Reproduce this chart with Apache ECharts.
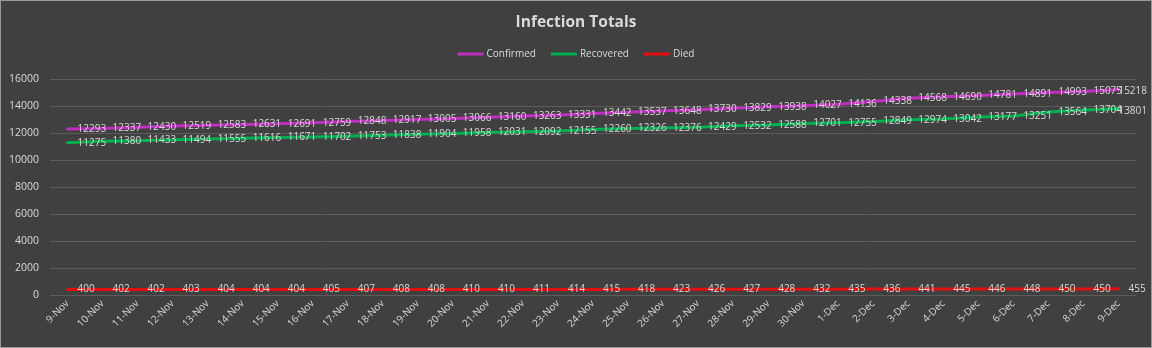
<!DOCTYPE html>
<html>
<head>
<meta charset="utf-8">
<script src="https://cdn.jsdelivr.net/npm/echarts@6/dist/echarts.min.js"></script>
<style>
html,body{margin:0;padding:0;background:#404040;}
#chart{width:1152px;height:348px;box-sizing:border-box;border:1px solid #9a9a9a;background:#404040;}
</style>
</head>
<body>
<div id="chart"></div>
<script>
const categories = ['9-Nov','10-Nov','11-Nov','12-Nov','13-Nov','14-Nov','15-Nov','16-Nov','17-Nov','18-Nov','19-Nov','20-Nov','21-Nov','22-Nov','23-Nov','24-Nov','25-Nov','26-Nov','27-Nov','28-Nov','29-Nov','30-Nov','1-Dec','2-Dec','3-Dec','4-Dec','5-Dec','6-Dec','7-Dec','8-Dec','9-Dec'];
const confirmed = [12293,12337,12430,12519,12583,12631,12691,12759,12848,12917,13005,13066,13160,13263,13331,13442,13537,13648,13730,13829,13938,14027,14136,14338,14568,14690,14781,14891,14993,15075,15218];
const recovered = [11275,11380,11433,11494,11555,11616,11671,11702,11753,11838,11904,11958,12031,12092,12155,12260,12326,12376,12429,12532,12588,12701,12755,12849,12974,13042,13177,13251,13564,13704,13801];
const died = [400,402,402,403,404,404,404,405,407,408,408,410,410,411,414,415,418,423,426,427,428,432,435,436,441,445,446,448,450,450,455];

const FONT = '"Open Sans", sans-serif';
const TXT = '#d9d9d9';
const RIGHT_LIMIT = 1146;

function mkSeries(name, data, color) {
  return {
    name: name,
    type: 'line',
    data: data,
    symbol: 'circle',
    symbolSize: 2,
    showSymbol: true,
    itemStyle: { color: color },
    lineStyle: { color: color, width: 3, cap: 'round', join: 'round' },
    label: {
      show: true,
      position: 'right',
      distance: 9,
      offset: [0, 2],
      color: TXT,
      fontFamily: FONT,
      fontSize: 10
    },
    labelLayout: function (p) {
      const r = p.labelRect;
      if (r.x + r.width > RIGHT_LIMIT) {
        return { x: RIGHT_LIMIT - r.width, y: r.y + r.height / 2, align: 'left', verticalAlign: 'middle' };
      }
      return {};
    },
    emphasis: { disabled: true },
    animation: false
  };
}

const chart = echarts.init(document.getElementById('chart'), null, { renderer: 'canvas' });
chart.setOption({
  backgroundColor: '#404040',
  animation: false,
  title: {
    text: 'Infection Totals',
    left: 'center',
    top: 9,
    textStyle: { color: TXT, fontFamily: FONT, fontSize: 15.5, fontWeight: 'bold' }
  },
  legend: {
    top: 43,
    left: 'center',
    icon: 'rect',
    itemWidth: 26,
    itemHeight: 3,
    itemGap: 15,
    textStyle: { color: TXT, fontFamily: FONT, fontSize: 10, padding: [0, 0, 0, -2] },
    data: ['Confirmed', 'Recovered', 'Died']
  },
  grid: { left: 49, right: 15, top: 78, bottom: 52, containLabel: false },
  xAxis: {
    type: 'category',
    data: categories,
    boundaryGap: true,
    axisLine: { show: false },
    axisTick: { show: false },
    axisLabel: { rotate: 45, color: TXT, fontFamily: FONT, fontSize: 10, margin: 7, interval: 0 }
  },
  yAxis: {
    type: 'value',
    min: 0,
    max: 16000,
    interval: 2000,
    axisLine: { show: false },
    axisTick: { show: false },
    axisLabel: { color: TXT, fontFamily: FONT, fontSize: 10.5, margin: 11, formatter: function (v) { return String(v); } },
    splitLine: { lineStyle: { color: '#5c5c5c', width: 1 } }
  },
  series: [
    mkSeries('Confirmed', confirmed, '#c030c0'),
    mkSeries('Recovered', recovered, '#00b050'),
    mkSeries('Died', died, '#e01010')
  ]
});
</script>
</body>
</html>
